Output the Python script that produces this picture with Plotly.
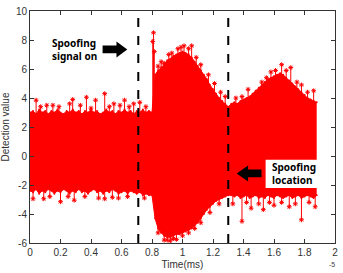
import plotly.graph_objects as go

# ---- data (time in units of 1e-5) ----
t_env = [0.00,0.02,0.04,0.06,0.08,0.10,0.12,0.14,0.16,0.18,
         0.20,0.22,0.24,0.26,0.28,0.30,0.32,0.34,0.36,0.38,
         0.40,0.42,0.44,0.46,0.48,0.50,0.52,0.54,0.56,0.58,
         0.60,0.62,0.64,0.66,0.68,0.70,0.72,0.74,0.76,0.78,
         0.80,
         0.82,0.84,0.86,0.88,0.90,0.92,0.94,0.96,0.98,1.00,
         1.02,1.04,1.06,1.08,1.10,1.12,1.14,1.16,1.18,1.20,
         1.22,1.24,1.26,1.28,1.30,
         1.32,1.34,1.36,1.38,1.40,1.42,1.44,1.46,1.48,1.50,
         1.52,1.54,1.56,1.58,1.60,1.62,1.64,1.66,1.68,1.70,
         1.72,1.74,1.76,1.78,1.80,1.82,1.84,1.86,1.88]

upper_env = [3.0,3.1,2.9,3.2,3.0,3.1,2.9,3.1,3.0,3.2,
             3.0,2.9,3.1,3.0,3.2,3.0,3.1,2.9,3.1,3.0,
             3.2,3.0,3.1,2.9,3.0,3.2,3.0,3.1,2.9,3.1,
             3.0,3.2,3.0,3.1,2.9,3.1,3.0,3.2,3.0,3.1,
             3.0,
             5.6,5.9,6.1,6.3,6.6,6.7,6.9,7.0,7.1,7.2,
             7.1,7.0,6.8,6.5,6.2,5.9,5.6,5.3,4.9,4.6,
             4.3,4.0,3.8,3.6,3.4,
             3.6,3.7,3.6,3.8,3.9,4.0,4.1,4.3,4.5,4.7,
             4.9,5.1,5.3,5.4,5.5,5.6,5.7,5.6,5.4,5.2,
             5.0,4.8,4.6,4.4,4.2,4.0,3.9,3.8,3.7]

lower_env = [-2.4,-2.5,-2.3,-2.6,-2.4,-2.5,-2.3,-2.4,-2.6,-2.4,
             -2.5,-2.3,-2.4,-2.6,-2.4,-2.5,-2.3,-2.5,-2.4,-2.6,
             -2.4,-2.3,-2.5,-2.4,-2.6,-2.4,-2.5,-2.3,-2.4,-2.6,
             -2.5,-2.4,-2.6,-2.4,-2.5,-2.6,-2.5,-2.7,-2.6,-2.7,
             -2.7,
             -4.3,-5.0,-5.3,-5.5,-5.6,-5.6,-5.5,-5.4,-5.4,-5.3,
             -5.2,-5.1,-5.0,-4.8,-4.6,-4.3,-4.0,-3.7,-3.5,-3.3,
             -3.1,-3.0,-2.9,-2.8,-2.7,
             -2.7,-2.8,-2.7,-2.9,-2.8,-2.7,-2.9,-2.8,-2.7,-2.9,
             -2.8,-2.9,-2.7,-2.8,-2.9,-2.7,-2.8,-2.9,-2.8,-2.7,
             -2.9,-2.8,-2.7,-2.9,-2.8,-2.7,-2.8,-2.9,-2.7]

spike_up_t = [0.04,0.07,0.11,0.15,0.19,0.26,0.28,0.33,0.37,0.40,0.43,0.49,
              0.52,0.55,0.59,0.62,0.65,0.68,0.72,0.76,
              0.805,0.81,0.815,0.84,0.86,0.88,0.91,0.93,0.97,0.99,1.01,
              1.04,1.06,1.09,1.12,1.17,1.21,1.25,1.28,
              1.35,1.39,1.43,1.49,1.52,1.55,1.58,1.61,1.65,1.68,1.71,
              1.75,1.78,1.82,1.86]
spike_up_v = [3.85,3.4,3.5,3.5,3.4,3.6,3.9,3.5,4.05,3.3,3.85,4.3,
              3.4,3.6,3.5,3.85,3.4,3.6,3.7,3.4,
              7.9,8.5,7.2,6.2,6.5,6.4,7.0,7.1,7.4,7.5,7.6,
              7.4,7.6,6.8,6.3,5.6,5.0,4.4,4.1,
              4.0,4.1,4.6,4.4,5.1,5.4,5.8,5.9,6.3,5.9,6.1,
              5.1,4.9,4.4,4.5]

spike_dn_t = [0.02,0.09,0.13,0.20,0.25,0.29,0.36,0.45,0.49,0.54,0.58,0.64,0.75,
              0.84,0.88,0.90,0.92,0.94,0.96,1.00,1.04,1.08,1.12,1.18,1.24,
              1.33,1.39,1.42,1.45,1.50,1.53,1.57,1.60,1.65,1.70,1.74,1.78,
              1.83,1.87]
spike_dn_v = [-2.95,-2.95,-2.8,-3.15,-2.8,-3.05,-2.8,-2.9,-2.95,-2.85,-2.9,-2.8,-2.9,
              -5.3,-5.8,-5.8,-5.85,-5.7,-5.75,-5.5,-5.3,-5.0,-4.6,-3.9,-3.3,
              -3.3,-4.5,-3.2,-3.6,-3.3,-3.7,-3.2,-3.4,-3.2,-3.5,-3.3,-4.4,
              -3.2,-3.5]

event_times = [0.71, 1.30]

x_ticks = [0, 0.2, 0.4, 0.6, 0.8, 1, 1.2, 1.4, 1.6, 1.8, 2]
y_ticks = [-6, -4, -2, 0, 2, 4, 6, 8, 10]

RED = "#ff0000"

fig = go.Figure()

# filled body of the signal
fig.add_trace(go.Scatter(x=t_env, y=lower_env, mode="lines+markers",
                         line=dict(color=RED, width=1),
                         marker=dict(color=RED, size=2, symbol="circle"),
                         hoverinfo="skip", showlegend=False))
fig.add_trace(go.Scatter(x=t_env, y=upper_env, mode="lines+markers",
                         fill="tonexty", fillcolor=RED,
                         line=dict(color=RED, width=1),
                         marker=dict(color=RED, size=2, symbol="circle"),
                         hoverinfo="skip", showlegend=False))

# stems for the spikes
sx, sy = [], []
for t, v in list(zip(spike_up_t, spike_up_v)) + list(zip(spike_dn_t, spike_dn_v)):
    sx += [t, t, None]
    sy += [0, v, None]
fig.add_trace(go.Scatter(x=sx, y=sy, mode="lines",
                         line=dict(color=RED, width=1),
                         hoverinfo="skip", showlegend=False))
fig.add_trace(go.Scatter(x=spike_up_t + spike_dn_t, y=spike_up_v + spike_dn_v,
                         mode="markers",
                         marker=dict(color=RED, size=4, symbol="asterisk-open",
                                     line=dict(color=RED, width=1)),
                         hoverinfo="skip", showlegend=False))

shapes = []
for et in event_times:
    shapes.append(dict(type="line", xref="x", yref="paper", x0=et, x1=et,
                       y0=0, y1=1, line=dict(color="black", width=2, dash="dash"),
                       layer="above"))

# white box behind "Spoofing location"
shapes.append(dict(type="rect", xref="x", yref="y", x0=1.545, x1=1.92,
                   y0=-2.2, y1=-0.25, fillcolor="white", line=dict(width=0),
                   layer="above"))

# block arrows
def right_arrow(x0, x1, xh, yc, hs, hh):
    return (f"M {x0},{yc-hs} L {xh},{yc-hs} L {xh},{yc-hh} L {x1},{yc} "
            f"L {xh},{yc+hh} L {xh},{yc+hs} L {x0},{yc+hs} Z")

def left_arrow(x0, x1, xh, yc, hs, hh):
    return (f"M {x1},{yc-hs} L {xh},{yc-hs} L {xh},{yc-hh} L {x0},{yc} "
            f"L {xh},{yc+hh} L {xh},{yc+hs} L {x1},{yc+hs} Z")

shapes.append(dict(type="path", xref="x", yref="y",
                   path=right_arrow(0.476, 0.638, 0.567, 7.35, 0.27, 0.55),
                   fillcolor="black", line=dict(width=0), layer="above"))
shapes.append(dict(type="path", xref="x", yref="y",
                   path=left_arrow(1.355, 1.518, 1.43, -1.2, 0.27, 0.55),
                   fillcolor="black", line=dict(width=0), layer="above"))

annotations = [
    dict(x=0.13, y=7.35, xref="x", yref="y", xanchor="left", yanchor="middle",
         text="<b>Spoofing<br>signal on</b>", showarrow=False, align="left",
         font=dict(family="Noto Sans, Open Sans, sans-serif", size=10, color="black")),
    dict(x=1.575, y=-1.2, xref="x", yref="y", xanchor="left", yanchor="middle",
         text="<b>Spoofing<br>location</b>", showarrow=False, align="left",
         font=dict(family="Noto Sans, Open Sans, sans-serif", size=10, color="black")),
    dict(x=1.0, y=0.0, xref="paper", yref="paper", xanchor="right", yanchor="top",
         yshift=-16, xshift=2, text="-5", showarrow=False,
         font=dict(family="Arial, Liberation Sans, sans-serif", size=7, color="#444")),
]

axis_common = dict(showline=True, linecolor="#333", linewidth=1, mirror="ticks",
                   ticks="inside", ticklen=4, tickcolor="#333", showgrid=False,
                   zeroline=False,
                   tickfont=dict(family="Arial, Liberation Sans, sans-serif", size=10, color="#333"))

fig.update_layout(
    width=343, height=273,
    margin=dict(l=30, r=6, t=5, b=21),
    paper_bgcolor="white", plot_bgcolor="white",
    xaxis=dict(range=[0, 2], tickvals=x_ticks, ticktext=[str(v) for v in x_ticks],
               title=dict(text="Time(ms)", standoff=3,
                          font=dict(family="Arial, Liberation Sans, sans-serif", size=10, color="#333")),
               **axis_common),
    yaxis=dict(range=[-6, 10], tickvals=y_ticks, ticktext=[str(v) for v in y_ticks],
               title=dict(text="Detection value", standoff=4,
                          font=dict(family="Arial, Liberation Sans, sans-serif", size=10, color="#333")),
               **axis_common),
    shapes=shapes,
    annotations=annotations,
)

fig.write_html("out.html")
